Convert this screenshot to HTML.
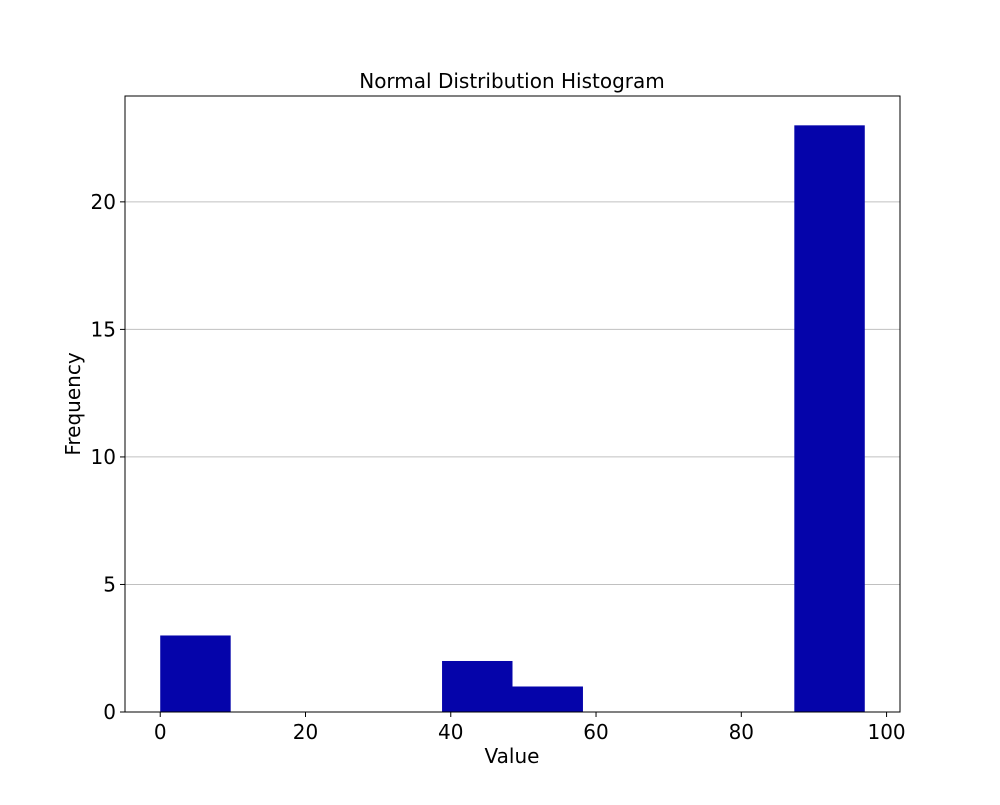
<!DOCTYPE html>
<html><head><meta charset="utf-8"><style>
body{margin:0;background:#fff;}
svg text{font-family:"DejaVu Sans","Liberation Sans",sans-serif;fill:#000;}
</style></head><body>
<svg id="chart" width="1000" height="800">
<rect width="1000" height="800" fill="#fff"/>
<g id="grid"></g><g id="bars"></g><g id="axes"></g>
<text x="512" y="88" font-size="20" text-anchor="middle">Normal Distribution Histogram</text>
<text x="512" y="763" font-size="20" text-anchor="middle">Value</text>
<text x="0" y="0" font-size="20" text-anchor="middle" transform="translate(80,404) rotate(-90)">Frequency</text>
</svg>
<script>
const binStart = 0;
const binEnd = 97;
const counts = [3,0,0,0,2,1,0,0,0,23];
const xTicks = [0,20,40,60,80,100];
const yTicks = [0,5,10,15,20];
const L=125,R=900,T=96,B=712;
const xmin=-4.85,xmax=101.85,ymax=24.15;
const xs=v=>L+(v-xmin)/(xmax-xmin)*(R-L);
const ys=v=>B-v/ymax*(B-T);
const NS='http://www.w3.org/2000/svg';
function mk(tag,attrs,parent){const e=document.createElementNS(NS,tag);for(const k in attrs)e.setAttribute(k,attrs[k]);parent.appendChild(e);return e;}
const grid=document.getElementById('grid'),bars=document.getElementById('bars'),axes=document.getElementById('axes');
yTicks.forEach(v=>{
 const g=mk('line',{x1:L,x2:R,y1:ys(v),y2:ys(v),stroke:'#c0c0c0','stroke-width':1},grid);
 
 
 mk('line',{x1:L-5,x2:L,y1:ys(v),y2:ys(v),stroke:'#000'},axes);
 const tx=mk('text',{x:L-9,y:ys(v)+7,'font-size':20,'text-anchor':'end'},axes);
 tx.textContent=v;
 
 
});
const w=(binEnd-binStart)/counts.length;
counts.forEach((c,i)=>{
 if(c<=0)return;
 const x0=xs(binStart+i*w),x1=xs(binStart+(i+1)*w);
 const r=mk('rect',{x:x0,y:ys(c),width:x1-x0,height:B-ys(c),fill:'#0504aa'},bars);
 
 
});
xTicks.forEach(v=>{
 mk('line',{x1:xs(v),x2:xs(v),y1:B,y2:B+5,stroke:'#000'},axes);
 const tx=mk('text',{x:xs(v),y:B+27,'font-size':20,'text-anchor':'middle'},axes);
 tx.textContent=v;
 
 
});
const f=mk('rect',{x:L,y:T,width:R-L,height:B-T,fill:'none',stroke:'#000','stroke-width':1},axes);


</script>
</body></html>
